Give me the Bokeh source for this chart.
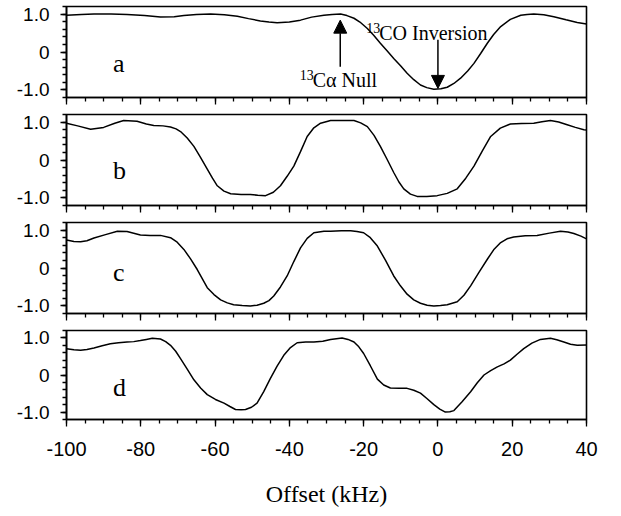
from bokeh.plotting import figure
from bokeh.layouts import column
from bokeh.models import Range1d, FixedTicker, Arrow, NormalHead, Label
from bokeh.embed import file_html
from bokeh.resources import INLINE

# ---- data ----
xa = [-100, -96, -92.6, -88, -83.7, -79, -74.7, -71, -68.4, -65, -61.2, -57.5, -54, -51, -47.8,
      -45.5, -43.3, -40, -37, -34, -30.7, -28.5, -26.2, -24.5, -22.6, -21, -19, -17.3, -15.5,
      -13.7, -11.9, -10, -8.3, -6.5, -4.7, -3, -1.1, 0.8, 2.5, 4.3, 6.1, 8, 9.7, 11.5, 13.3, 15,
      16.9, 19.5, 22.3, 24, 25.8, 28.5, 31.2, 34.5, 37.5, 40]
ya = [0.97, 0.99, 1.0, 1.0, 0.99, 0.96, 0.92, 0.93, 0.96, 0.99, 1.0, 0.98, 0.94, 0.88, 0.82,
      0.79, 0.77, 0.79, 0.84, 0.92, 0.97, 0.99, 1.0, 0.96, 0.89, 0.79, 0.62, 0.44, 0.23,
      0.03, -0.17, -0.37, -0.56, -0.73, -0.87, -0.94, -0.98, -0.97, -0.93, -0.83, -0.69, -0.50,
      -0.30, -0.04, 0.23, 0.46, 0.67, 0.86, 0.97, 0.99, 1.0, 0.98, 0.93, 0.85, 0.78, 0.74]

xb = [-100, -97, -93.5, -90, -87, -84.6, -81, -78.5, -76.5, -74, -72, -70.5, -69.3, -67.5, -65.7,
      -64, -62.1, -60.7, -59.4, -57.6, -55.8, -53, -50.5, -48.5, -46.4, -44.3, -42.4, -40.6, -38.8,
      -37, -35.2, -33.4, -31.6, -28.9, -25.5, -22.6, -20.8, -19, -17.2, -15.5, -13.7, -11.9, -10.5,
      -9.2, -7.4, -5.6, -3, -0.2, 2.5, 5.2, 7.5, 9.7, 12, 14.2, 16.8, 19.5, 22.5, 25.8, 28, 30.3,
      32.5, 34.8, 37, 39.3, 40]
yb = [0.97, 0.90, 0.81, 0.86, 0.97, 1.04, 1.02, 0.95, 0.91, 0.90, 0.87, 0.82, 0.75, 0.58, 0.36,
      0.08, -0.24, -0.48, -0.68, -0.82, -0.89, -0.91, -0.91, -0.93, -0.94, -0.85, -0.68, -0.43, -0.16,
      0.22, 0.62, 0.85, 0.97, 1.04, 1.04, 1.04, 0.98, 0.88, 0.65, 0.36, 0.02, -0.33, -0.58,
      -0.76, -0.90, -0.96, -0.96, -0.94, -0.88, -0.76, -0.48, -0.16, 0.25, 0.62, 0.84, 0.95, 0.96,
      0.97, 1.01, 1.04, 1.0, 0.93, 0.86, 0.80, 0.79]

xc = [-100, -98, -96.2, -94.5, -92.6, -89.5, -86.3, -83.7, -80.1, -77.5, -74.7, -72, -70.2, -68.4,
      -66.6, -64.8, -62.1, -60.3, -58.5, -56.7, -55, -52.7, -50.5, -48.7, -46.9, -45.5, -44.2, -42.4,
      -40.6, -38.8, -37, -35.2, -33.4, -30.7, -28.9, -26, -23.5, -21.8, -20, -18.2, -16.3, -14.1,
      -11.9, -10.1, -8.3, -6.5, -4.7, -2.9, -1.1, 0.7, 2.5, 5.2, 7, 8.8, 11, 13.3, 15, 16.9, 18.6,
      20.4, 23.5, 26.7, 30, 33, 35, 36.6, 38.5, 40]
yc = [0.74, 0.70, 0.69, 0.72, 0.79, 0.88, 0.97, 0.96, 0.87, 0.86, 0.86, 0.80, 0.68, 0.49,
      0.24, -0.04, -0.52, -0.70, -0.84, -0.92, -0.97, -0.99, -1.0, -0.98, -0.93, -0.86, -0.74, -0.50,
      -0.21, 0.17, 0.53, 0.78, 0.93, 0.97, 0.97, 0.98, 0.98, 0.96, 0.93, 0.80, 0.58, 0.20,
      -0.21, -0.47, -0.69, -0.84, -0.93, -0.98, -1.0, -0.99, -0.97, -0.89, -0.72, -0.47, -0.12, 0.23,
      0.48, 0.67, 0.77, 0.82, 0.85, 0.86, 0.92, 0.97, 0.95, 0.91, 0.84, 0.77]

xd = [-100, -98, -96.2, -94.5, -92.6, -90.4, -88.2, -86, -83.7, -81.9, -80.1, -78.5, -76.9, -74.7,
      -73.3, -72, -70.6, -69.3, -67.5, -65.7, -63.9, -62.1, -59.9, -57.6, -56, -54.5, -53, -51.8,
      -50.2, -48.7, -46.9, -45.1, -43.3, -41.5, -39.7, -37.9, -35.6, -33.4, -31, -28.9, -25.8,
      -24.2, -22.6, -21.3, -20, -18.2, -16.3, -14.6, -12.8, -10.5, -8.3, -6.5, -4.7, -2.9, -1.1,
      0.5, 2.0, 3.2, 4.3, 6.5, 8.8, 10.6, 12.4, 14.2, 16, 17.8, 19.5, 21.3, 23.1, 25.3, 27.6, 30.3,
      32, 33.9, 35.7, 37.5, 40]
yd = [0.71, 0.68, 0.67, 0.69, 0.73, 0.79, 0.84, 0.87, 0.89, 0.90, 0.93, 0.96, 0.99, 0.97,
      0.90, 0.80, 0.64, 0.44, 0.16, -0.13, -0.35, -0.53, -0.66, -0.76, -0.85, -0.93, -0.94, -0.93,
      -0.87, -0.76, -0.45, -0.09, 0.24, 0.53, 0.74, 0.87, 0.89, 0.89, 0.91, 0.96, 1.0,
      0.96, 0.89, 0.76, 0.58, 0.25, -0.11, -0.27, -0.35, -0.36, -0.36, -0.41, -0.49, -0.64, -0.80,
      -0.92, -1.0, -0.99, -0.96, -0.72, -0.45, -0.21, 0.0, 0.12, 0.22, 0.30, 0.40, 0.56, 0.71, 0.86,
      0.96, 0.99, 0.95, 0.89, 0.83, 0.80, 0.81]

panel_letters = ["a", "b", "c", "d"]
letter_y = [-0.30, -0.29, -0.13, -0.33]
x_ticks = [-100, -80, -60, -40, -20, 0, 20, 40]
x_tick_labels = {-100: "-100", -80: "-80", -60: "-60", -40: "-40", -20: "-20",
                 0: "0", 20: "20", 40: "40"}
x_minor = list(range(-100, 41, 5))
y_ticks = [-1, 0, 1]
y_tick_labels = {-1: "-1.0", 0: "0", 1: "1.0"}
y_minor = [-1.2, -1.0, -0.8, -0.6, -0.4, -0.2, 0.0, 0.2, 0.4, 0.6, 0.8, 1.0, 1.2]

# annotations in panel a
null_x, null_y0, null_y1 = -26.3, -0.39, 0.84
inv_x, inv_y0, inv_y1 = 0.0, 0.32, -0.96
null_label = ("Cα Null", -37.2, -0.74)
inv_label = ("CO Inversion", -19.3, 0.5)
iso_label = "13"

xr = Range1d(-100, 40)
series = [(xa, ya), (xb, yb), (xc, yc), (xd, yd)]
tops = [6, 5, 5, 5]
bottoms = [12, 12, 12, 88]
figs = []
for i, (xs, ys) in enumerate(series):
    last = i == 3
    p = figure(width=608, height=tops[i] + 91 + bottoms[i], x_range=xr,
               y_range=Range1d(-1.2, 1.2), output_backend="svg", toolbar_location=None,
               min_border_left=66, min_border_right=22, min_border_top=tops[i],
               min_border_bottom=bottoms[i])
    p.grid.visible = False
    p.outline_line_color = "black"
    p.outline_line_width = 1.6
    p.outline_line_alpha = 1.0
    p.background_fill_color = "white"
    p.border_fill_color = "white"

    p.line(xs, ys, line_color="black", line_width=1.5)

    xa_ = p.xaxis[0]
    xa_.ticker = FixedTicker(ticks=x_ticks, minor_ticks=x_minor)
    xa_.axis_line_width = 1.6
    xa_.major_tick_line_width = 1.3
    xa_.minor_tick_line_width = 1.3
    xa_.major_tick_out = 7
    xa_.major_tick_in = 0
    xa_.minor_tick_out = 4
    xa_.minor_tick_in = 0
    if last:
        xa_.major_label_overrides = x_tick_labels
        xa_.major_label_text_font = "Liberation Sans"
        xa_.major_label_text_font_size = "20px"
        xa_.major_label_text_color = "black"
        xa_.major_label_standoff = 15
        xa_.axis_label = "Offset (kHz)"
        xa_.axis_label_text_font = "Liberation Serif"
        xa_.axis_label_text_font_size = "24px"
        xa_.axis_label_text_font_style = "normal"
        xa_.axis_label_text_color = "black"
        xa_.axis_label_standoff = 22
    else:
        xa_.major_label_overrides = {t: "" for t in x_ticks}
        xa_.major_label_text_font_size = "0px"
        xa_.major_label_standoff = 0

    ya_ = p.yaxis[0]
    ya_.ticker = FixedTicker(ticks=y_ticks, minor_ticks=y_minor)
    ya_.major_label_overrides = y_tick_labels
    ya_.major_label_text_font = "Liberation Sans"
    ya_.major_label_text_font_size = "19px"
    ya_.major_label_text_color = "black"
    ya_.major_label_standoff = 11
    ya_.axis_line_width = 1.6
    ya_.major_tick_line_width = 1.3
    ya_.minor_tick_line_width = 1.3
    ya_.major_tick_out = 6
    ya_.major_tick_in = 0
    ya_.minor_tick_out = 4
    ya_.minor_tick_in = 0

    p.add_layout(Label(x=-87.5, y=letter_y[i], text=panel_letters[i],
                       text_font="Liberation Serif", text_font_size="26px",
                       text_color="black", text_baseline="alphabetic"))

    if i == 0:
        p.add_layout(Arrow(end=NormalHead(size=13, fill_color="black", line_color="black"),
                           x_start=null_x, y_start=null_y0, x_end=null_x, y_end=null_y1,
                           line_width=1.5, line_color="black"))
        p.add_layout(Arrow(end=NormalHead(size=13, fill_color="black", line_color="black"),
                           x_start=inv_x, y_start=inv_y0, x_end=inv_x, y_end=inv_y1,
                           line_width=1.5, line_color="black"))
        for txt, lx, ly in (null_label, inv_label):
            p.add_layout(Label(x=lx, y=ly, text=iso_label, text_font="Liberation Serif",
                               text_font_size="14px", text_color="black",
                               text_baseline="alphabetic", y_offset=5))
            p.add_layout(Label(x=lx, y=ly, text=txt, text_font="Liberation Serif",
                               text_font_size="20px", text_color="black",
                               text_baseline="alphabetic", x_offset=13))
    figs.append(p)

layout = column(*figs, spacing=0)
open("out.html", "w").write(file_html(layout, INLINE))
